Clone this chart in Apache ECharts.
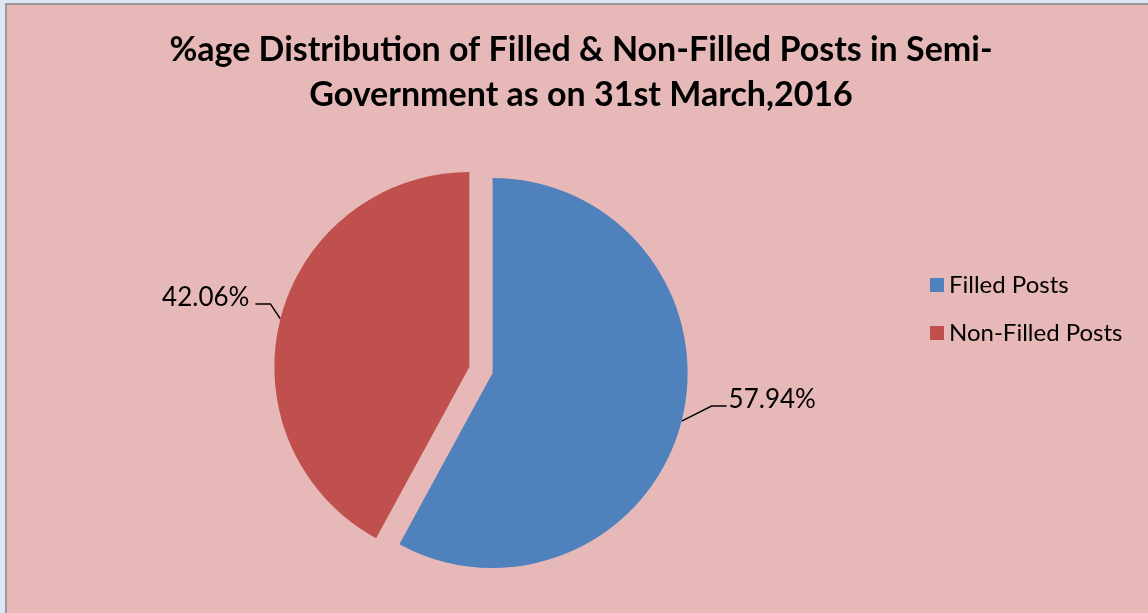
<!DOCTYPE html>
<html>
<head>
<meta charset="utf-8">
<script src="https://cdn.jsdelivr.net/npm/echarts@6/dist/echarts.min.js"></script>
<style>
html, body { margin: 0; padding: 0; background: #DCE6F2; overflow: hidden; }
#main { position: absolute; left: 5px; top: 3px; width: 1143px; height: 610px;
        border-left: 2px solid #9a9a9a; border-top: 2px solid #9a9a9a; background: #E6B8B7; }
</style>
</head>
<body>
<div id="main"></div>
<script>
var categories = ['Filled Posts', 'Non-Filled Posts'];
var shares = [57.94, 42.06];
var colors = ['#4F81BD', '#C0504D'];

var myChart = echarts.init(document.getElementById('main'));

var pieData = categories.map(function (name, i) {
    return { name: name, value: shares[i], selected: true, itemStyle: { color: colors[i] } };
});

// excel style leader: short rise from the slice edge, then a flat piece
function leader(params) {
    var pts = params.labelLinePoints;
    if (!pts) return {};
    var r = params.labelRect;
    var p0 = pts[0];
    var dir = pts[2][0] >= p0[0] ? 1 : -1;
    var rise = dir > 0 ? 30 : 10;
    var p1 = [p0[0] + dir * rise, p0[1] - 15];
    var p2 = [p1[0] + dir * 15, p1[1]];
    var tx = dir > 0 ? p2[0] + 2 : p2[0] - 6 - r.width;
    var ty = p2[1] - 6 - r.height / 2;
    return {
        dx: tx - r.x,
        dy: ty - r.y,
        labelLinePoints: [p0, p1, p2]
    };
}

var option = {
    backgroundColor: '#E6B8B7',
    animation: false,
    title: {
        text: '%age Distribution of Filled & Non-Filled Posts in Semi-\nGovernment as on 31st March,2016',
        left: 569,
        top: 18,
        textAlign: 'center',
        textStyle: {
            fontFamily: 'Lato',
            fontWeight: 'bold',
            fontSize: 34,
            lineHeight: 45,
            color: '#000'
        }
    },
    legend: {
        orient: 'vertical',
        left: 923,
        top: 268,
        padding: 0,
        itemWidth: 14,
        itemHeight: 14,
        itemGap: 24,
        icon: 'rect',
        selectedMode: false,
        textStyle: { fontFamily: 'Lato', fontSize: 24, lineHeight: 24, color: '#000' },
        data: categories
    },
    series: [{
        type: 'pie',
        center: [474, 365],
        radius: 195,
        startAngle: 90,
        clockwise: true,
        selectedMode: 'multiple',
        selectedOffset: 12,
        emphasis: { disabled: true },
        label: {
            show: true,
            position: 'outside',
            formatter: function (p) { return p.value.toFixed(2) + '%'; },
            fontFamily: 'Lato',
            fontSize: 26,
            color: '#000'
        },
        labelLine: {
            show: true,
            length: 14,
            length2: 16,
            lineStyle: { color: '#000', width: 1.5 }
        },
        labelLayout: leader,
        itemStyle: { borderWidth: 0 },
        data: pieData
    }]
};

myChart.setOption(option);
</script>
</body>
</html>
